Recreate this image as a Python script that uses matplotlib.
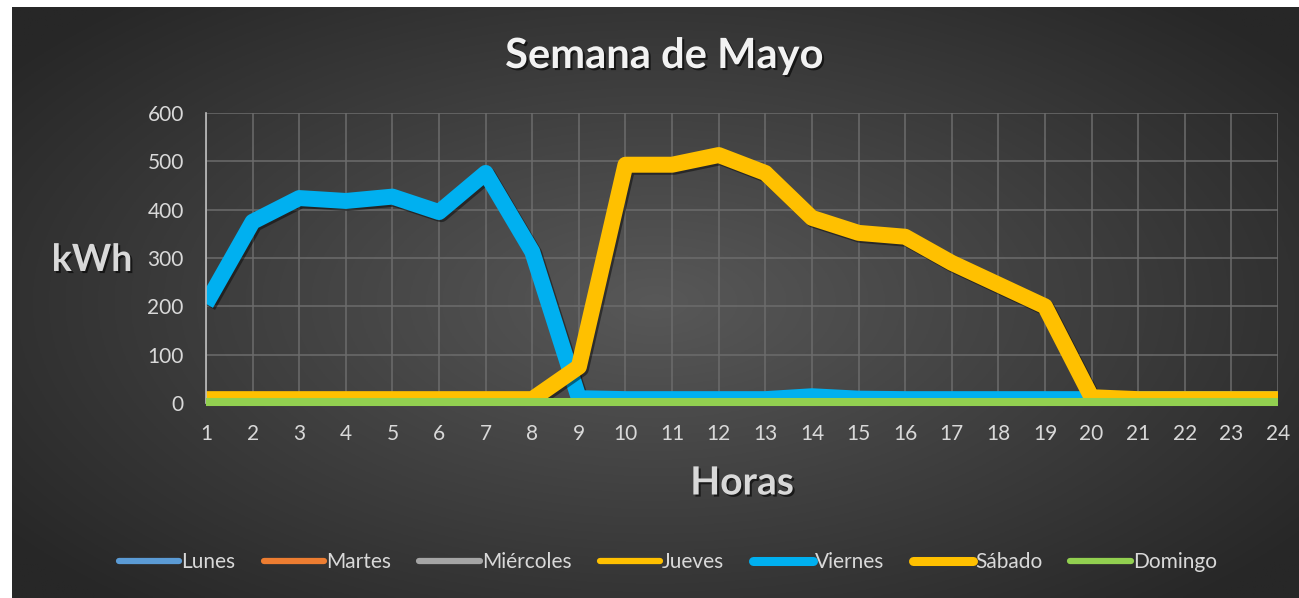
import numpy as np
import matplotlib
matplotlib.use("Agg")
import matplotlib.pyplot as plt
import matplotlib.patheffects as pe
from matplotlib.lines import Line2D

# Data
horas = list(range(1, 25))
lunes = [0] * 24
martes = [0] * 24
miercoles = [0] * 24
jueves = [0] * 24
viernes = [205, 375, 424, 418, 427, 395, 476, 313, 10, 8, 8, 8,
           8, 14, 9, 8, 8, 8, 8, 8, 8, 8, 8, 8]
sabado = [8, 8, 8, 8, 8, 8, 8, 8, 75, 493, 493, 513,
          476, 383, 352, 344, 290, 245, 200, 12, 8, 8, 8, 8]
domingo = [3] * 24

series = [
    ("Lunes", lunes, "#5B9BD5", 2.5),
    ("Martes", martes, "#ED7D31", 2.5),
    ("Miércoles", miercoles, "#A5A5A5", 2.5),
    ("Jueves", jueves, "#FFC000", 2.5),
    ("Viernes", viernes, "#00B0F0", 11.5),
    ("Sábado", sabado, "#FFC000", 11.5),
    ("Domingo", domingo, "#92D050", 5.8),
]

plt.rcParams['font.family'] = ['Lato', 'DejaVu Sans']

W, H = 1299, 598
fig = plt.figure(figsize=(W / 100, H / 100), dpi=100)
fig.patch.set_facecolor("white")

# dark radial background
bg = fig.add_axes([12 / W, 0, 1 - 12 / W, (H - 7) / H], zorder=-5)
yy, xx = np.mgrid[-1:1:300j, -1:1:600j]
r = np.sqrt((xx / 1.0) ** 2 + (yy / 1.1) ** 2)
r = np.clip(r / 1.25, 0, 1)
c0 = np.array([0x58, 0x58, 0x58]) / 255
c1 = np.array([0x27, 0x27, 0x27]) / 255
img = c0[None, None, :] * (1 - r[..., None]) + c1[None, None, :] * r[..., None]
bg.imshow(img, aspect="auto", extent=[0, 1, 0, 1])
bg.axis("off")

ax = fig.add_axes([206 / W, 1 - 403 / H, (1278 - 206) / W, (403 - 113) / H])
ax.set_facecolor("none")

for name, vals, col, lw in series:
    effects = None
    if lw > 10:
        effects = [pe.SimpleLineShadow(offset=(1.5, -1.5), shadow_color="black", alpha=0.45),
                   pe.Normal()]
    ln, = ax.plot(horas, vals, color=col, lw=lw, solid_joinstyle="round",
                  solid_capstyle="butt", path_effects=effects, label=name)
    if name == "Domingo":
        ln.set_clip_on(False)
        ln.set_zorder(5)

ax.set_xlim(1, 24)
ax.set_ylim(0, 600)
ax.set_xticks(horas)
ax.set_yticks(range(0, 601, 100))
ax.grid(True, color="#6c6c6c", lw=1.1)
ax.set_axisbelow(True)
ax.tick_params(length=0, labelsize=15, labelcolor="#d9d9d9")
ax.tick_params(axis="x", pad=15)
ax.tick_params(axis="y", pad=16)
for s in ["top", "right", "bottom"]:
    ax.spines[s].set_visible(False)
ax.spines["left"].set_color("#bfbfbf")
ax.spines["left"].set_linewidth(1.2)

shadow = [pe.withSimplePatchShadow(offset=(1.5, -1.5), shadow_rgbFace="black", alpha=0.6)]
fig.text(664 / W, 1 - 56 / H, "Semana de Mayo", ha="center", va="center",
         fontsize=30, fontweight="bold", color="#f2f2f2", path_effects=shadow)
fig.text(92 / W, 1 - 260 / H, "kWh", ha="center", va="center",
         fontsize=27, fontweight="bold", color="#d9d9d9", path_effects=shadow)
fig.text(742 / W, 1 - 483 / H, "Horas", ha="center", va="center",
         fontsize=28, fontweight="bold", color="#d9d9d9", path_effects=shadow)

handles = [Line2D([], [], color=col, lw=(6.5 if lw > 10 else 4.5),
                  solid_capstyle="round")
           for name, vals, col, lw in series]
leg = fig.legend(handles, [s[0] for s in series], loc="center", ncol=7,
                 bbox_to_anchor=(668 / W, 1 - 562 / H), frameon=False,
                 fontsize=15, handlelength=2.9, handletextpad=0.1, columnspacing=1.35)
for t in leg.get_texts():
    t.set_color("#d9d9d9")

fig.savefig("out.png", dpi=100)
